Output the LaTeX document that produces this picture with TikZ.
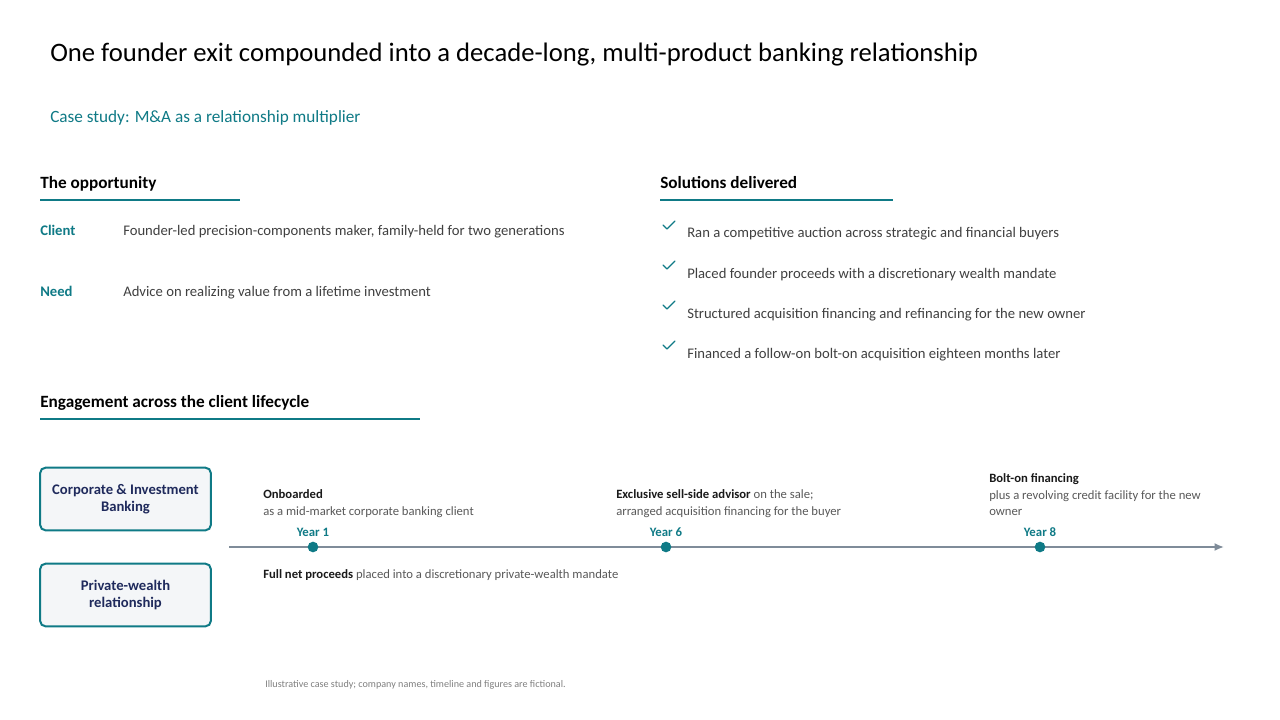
\documentclass[tikz,border=0pt]{standalone}
\usepackage{fontspec}
\setmainfont{Carlito}
\usetikzlibrary{arrows.meta,positioning}
\definecolor{tealc}{HTML}{0F7A86}
\definecolor{navyc}{HTML}{1F2A5C}
\definecolor{txtc}{HTML}{404040}
\definecolor{evtc}{HTML}{595959}
\definecolor{inkc}{HTML}{1A1A1A}
\definecolor{axisc}{HTML}{7F8C99}
\definecolor{boxbg}{HTML}{F4F6F8}
\tikzset{
  ttl/.style={anchor=base west,inner sep=0pt,font=\fontsize{20}{24}\selectfont,black},
  sub/.style={anchor=base west,inner sep=0pt,font=\fontsize{12.9}{15}\selectfont,tealc},
  hd/.style={anchor=base west,inner sep=0pt,font=\fontsize{12.9}{15}\selectfont\bfseries,black},
  rule/.style={tealc,line width=2.2pt},
  lbl/.style={anchor=base west,inner sep=0pt,font=\fontsize{11}{13}\selectfont\bfseries,tealc},
  txt/.style={anchor=base west,inner sep=0pt,font=\fontsize{11}{13}\selectfont,txtc},
  chk/.style={tealc,line width=1pt,line cap=round,line join=round},
  box/.style={draw=tealc,line width=1.5pt,rounded corners=4pt,fill=boxbg,align=center,
    minimum width=128pt,minimum height=47pt,text=navyc,font=\fontsize{11}{13}\selectfont\bfseries},
  evt/.style={anchor=base west,inner sep=0pt,font=\fontsize{9.5}{11}\selectfont,evtc},
  yr/.style={inner sep=0pt,font=\fontsize{9.6}{11}\selectfont\bfseries,tealc},
  dot/.style={circle,fill=tealc,minimum size=8pt,inner sep=0pt},
  ar/.style={-{Latex[length=7pt,width=6pt]},axisc,line width=1.5pt}
}
\newcommand{\bk}[1]{{\color{inkc}\bfseries #1}}
\begin{document}
\begin{tikzpicture}[x=0.75pt,y=-0.75pt]
\useasboundingbox[fill=white] (0,0) rectangle (1280,720);
% heading
\node[ttl] (title) at (50,62) {One founder exit compounded into a decade-long, multi-product banking relationship};
\node[sub] (subtitle) at (50,123) {Case study: M\&A as a relationship multiplier};
% the opportunity
\node[hd] (hOpp) at (40,189) {The opportunity};
\draw[rule] (40,200) -- (240,200);
\node[lbl] (lClient) at (40,235) {Client};
\node[txt] (tClient) at (123,235) {Founder-led precision-components maker, family-held for two generations};
\node[lbl] (lNeed) at (40,296) {Need};
\node[txt] (tNeed) at (123,296) {Advice on realizing value from a lifetime investment};
% solutions
\node[hd] (hSol) at (660,189) {Solutions delivered};
\draw[rule] (660,200) -- (893,200);
\foreach \i/\t in {0/Ran a competitive auction across strategic and financial buyers,
                   1/Placed founder proceeds with a discretionary wealth mandate,
                   2/Structured acquisition financing and refinancing for the new owner,
                   3/Financed a follow-on bolt-on acquisition eighteen months later}{
  \draw[chk] (663,225+40*\i) -- (667,229+40*\i) -- (675,221+40*\i);
  \node[txt] (sol\i) at (687,238+40*\i) {\t};}
% lifecycle
\node[hd] (hEng) at (40,407) {Engagement across the client lifecycle};
\draw[rule] (40,419) -- (420,419);
\node[box] (cib) at (125.5,499) {Corporate \& Investment\\Banking};
\node[box] (pwr) at (125.5,595) {Private-wealth\\relationship};
\coordinate (tl0) at (229,547);
\coordinate (tl1) at (1224,547);
\draw[ar] (tl0) -- (tl1);
\node[dot] (d1) at (313,547) {};
\node[dot] (d6) at (666,547) {};
\node[dot] (d8) at (1040,547) {};
\node[yr,above=3.2pt of d1] (y1) {Year 1};
\node[yr,above=3.2pt of d6] (y6) {Year 6};
\node[yr,above=3.2pt of d8] (y8) {Year 8};
\node[evt] (e1a) at (263,498) {\bk{Onboarded}};
\node[evt] (e1b) at (263,515) {as a mid-market corporate banking client};
\node[evt] (e6a) at (616,498) {\bk{Exclusive sell-side advisor} on the sale;};
\node[evt] (e6b) at (616,515) {arranged acquisition financing for the buyer};
\node[evt] (e8a) at (989,482) {\bk{Bolt-on financing}};
\node[evt] (e8b) at (989,499) {plus a revolving credit facility for the new};
\node[evt] (e8c) at (989,515) {owner};
\node[evt] (pw1) at (263,578) {\bk{Full net proceeds} placed into a discretionary private-wealth mandate};
% footnote
\node[anchor=base west,inner sep=0pt,font=\fontsize{7.6}{9}\selectfont,gray] (foot) at (265,687) {Illustrative case study; company names, timeline and figures are fictional.};
\end{tikzpicture}
\end{document}
